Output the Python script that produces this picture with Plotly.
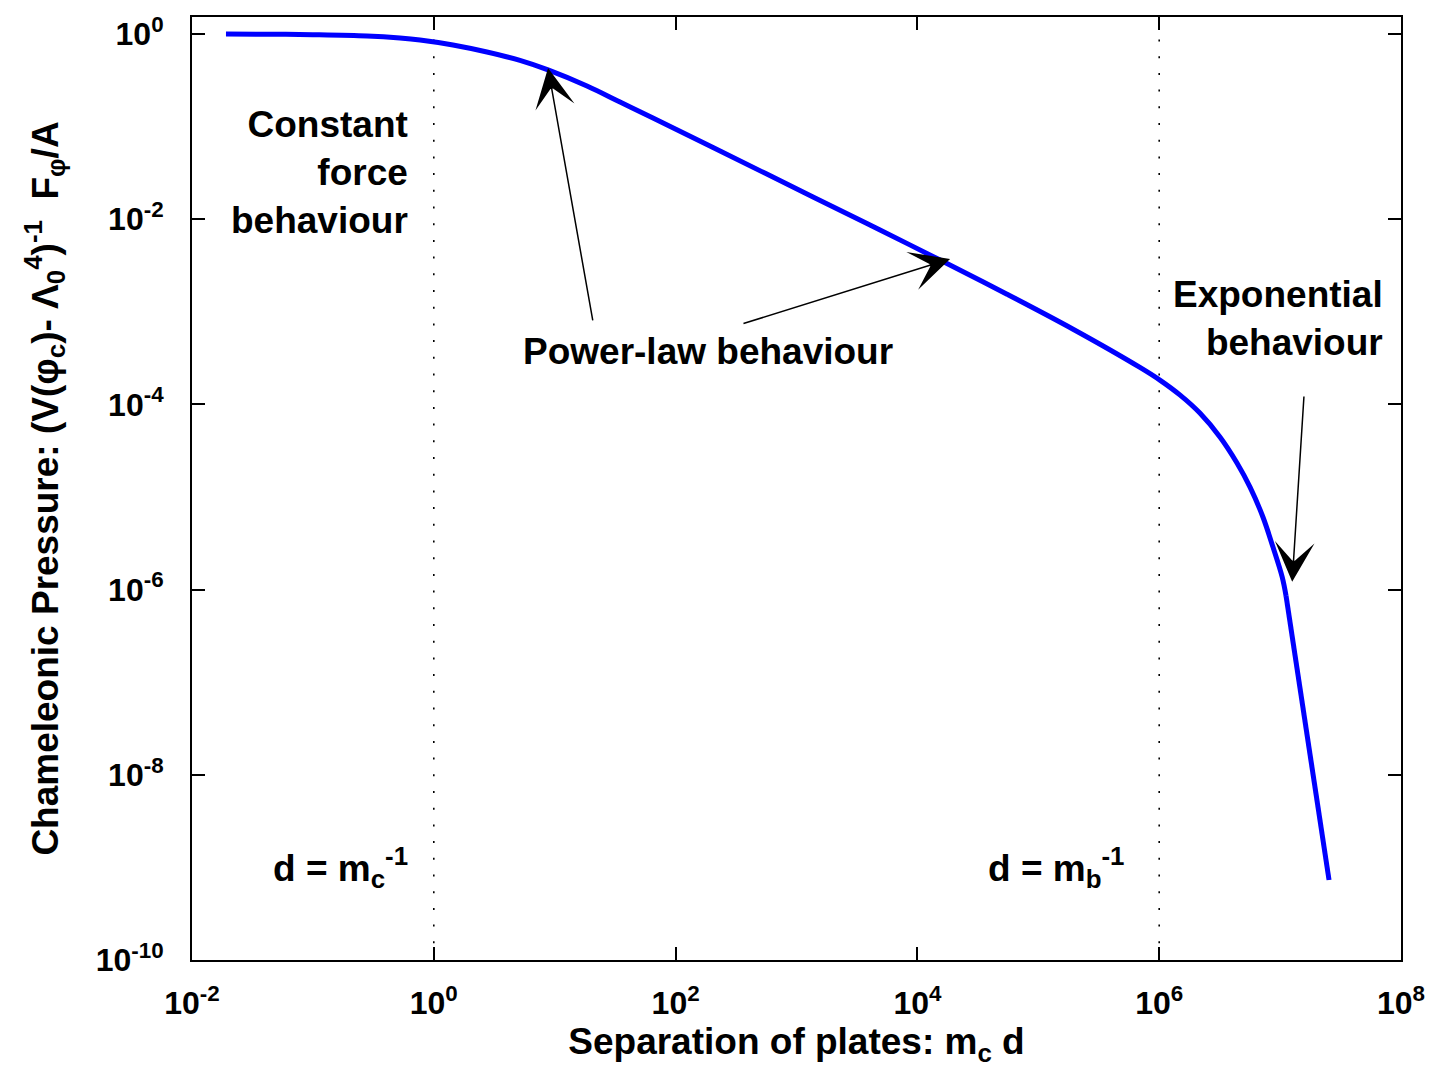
import plotly.graph_objects as go

# ---- data ----
sep_x = [0.0191, 0.0442, 0.100, 0.280, 0.525, 0.769, 1.44, 2.75, 5.16, 8.81,
         18.5, 34.7, 65.0, 204, 1370, 4910, 15400, 55100, 194000, 693000,
         1.02e6, 1.49e6, 2.17e6, 3.18e6, 4.40e6, 5.64e6, 7.21e6, 8.73e6, 1.04e7,
         1.12e7]
pressure_y = [1.0, 0.995, 0.983, 0.952, 0.905, 0.861, 0.761, 0.639, 0.518, 0.409,
              0.274, 0.184, 0.124, 0.0594, 0.0174, 0.00764, 0.00362, 0.00155,
              0.000649, 0.000251, 0.000182, 0.000126, 8.07e-5, 4.45e-5, 2.33e-5,
              1.28e-5, 6.08e-6, 2.88e-6, 1.37e-6, 8.53e-7]
# final (straight) segment of the curve
tail_x = [1.12e7, 2.54e7]
tail_y = [8.53e-7, 7.31e-10]

vline_x = [1.0, 1.0e6]

x_tickvals = [1e-2, 1e0, 1e2, 1e4, 1e6, 1e8]
x_ticktext = ["10<sup>-2</sup>", "10<sup>0</sup>", "10<sup>2</sup>",
              "10<sup>4</sup>", "10<sup>6</sup>", "10<sup>8</sup>"]
y_tickvals = [1e-10, 1e-8, 1e-6, 1e-4, 1e-2, 1e0]
y_ticktext = ["10<sup>-10</sup>", "10<sup>-8</sup>", "10<sup>-6</sup>",
              "10<sup>-4</sup>", "10<sup>-2</sup>", "10<sup>0</sup>"]

FONT = "Liberation Sans, Arial, Helvetica, sans-serif"
BLUE = "#0000ff"

fig = go.Figure()

for vx in vline_x:
    fig.add_trace(go.Scatter(x=[vx, vx], y=[1e-10, 1.53], mode="lines",
                             line=dict(color="black", width=1.6, dash="2px,14.7px"),
                             showlegend=False, hoverinfo="skip"))

fig.add_trace(go.Scatter(x=sep_x, y=pressure_y, mode="lines",
                         line=dict(color=BLUE, width=5, shape="spline", smoothing=1.0),
                         showlegend=False))
fig.add_trace(go.Scatter(x=tail_x, y=tail_y, mode="lines",
                         line=dict(color=BLUE, width=5),
                         showlegend=False))

ann_font = dict(family=FONT, size=37, color="black", weight="bold")

annotations = [
    dict(x=-0.2, y=-1.5, xref="x", yref="y", text="Constant<br>force<br>behaviour",
         xanchor="right", yanchor="middle", align="right", showarrow=False, font=ann_font),
    dict(x=2.268, y=-3.434, xref="x", yref="y", text="Power-law behaviour",
         xanchor="center", yanchor="middle", showarrow=False, font=ann_font),
    dict(x=7.868, y=-3.07, xref="x", yref="y", text="Exponential<br>behaviour",
         xanchor="right", yanchor="middle", align="right", showarrow=False, font=ann_font),
    dict(x=-0.2, y=-9.0, xref="x", yref="y", text="d = m<sub>c</sub><sup>-1</sup>",
         xanchor="right", yanchor="middle", showarrow=False, font=ann_font),
    dict(x=5.73, y=-9.0, xref="x", yref="y", text="d = m<sub>b</sub><sup>-1</sup>",
         xanchor="right", yanchor="middle", showarrow=False, font=ann_font),
]

arrows = [
    ((0.945, -0.367), (1.317, -3.11)),
    ((4.27, -2.43), (2.549, -3.132)),
    ((7.10, -5.915), (7.198, -3.898)),
]
for (hx, hy), (tx, ty) in arrows:
    annotations.append(dict(x=hx, y=hy, ax=tx, ay=ty, xref="x", yref="y",
                            axref="x", ayref="y", text="", showarrow=True,
                            arrowhead=3, arrowsize=4.4, arrowwidth=1.5,
                            arrowcolor="black", standoff=0, startstandoff=0))

fig.update_layout(
    width=1437, height=1086,
    margin=dict(l=192, r=36, t=17, b=126, pad=0),
    paper_bgcolor="white", plot_bgcolor="white",
    font=dict(family=FONT, color="black"),
    annotations=annotations,
    showlegend=False,
)

axis_common = dict(showgrid=False, zeroline=False, showline=True, linecolor="black",
                   linewidth=2, mirror="ticks", ticks="inside", ticklen=13,
                   tickwidth=1.5, tickcolor="black",
                   tickfont=dict(family=FONT, size=32, color="black", weight="bold"))

title_font = dict(family=FONT, size=37, color="black", weight="bold")

fig.update_xaxes(type="log", range=[-2, 8], tickvals=x_tickvals, ticktext=x_ticktext,
                 ticklabelstandoff=14,
                 title=dict(text="Separation of plates: m<sub>c</sub> d",
                            font=title_font, standoff=4),
                 **axis_common)
fig.update_yaxes(type="log", range=[-10, 0.1836], tickvals=y_tickvals, ticktext=y_ticktext,
                 ticklabelstandoff=20,
                 title=dict(text="Chameleonic Pressure: (V(φ<sub>c</sub>)- Λ<sub>0</sub><sup>4</sup>)<sup>-1</sup>  F<sub>φ</sub>/A",
                            font=title_font, standoff=26),
                 **axis_common)

fig.write_html("out.html")
